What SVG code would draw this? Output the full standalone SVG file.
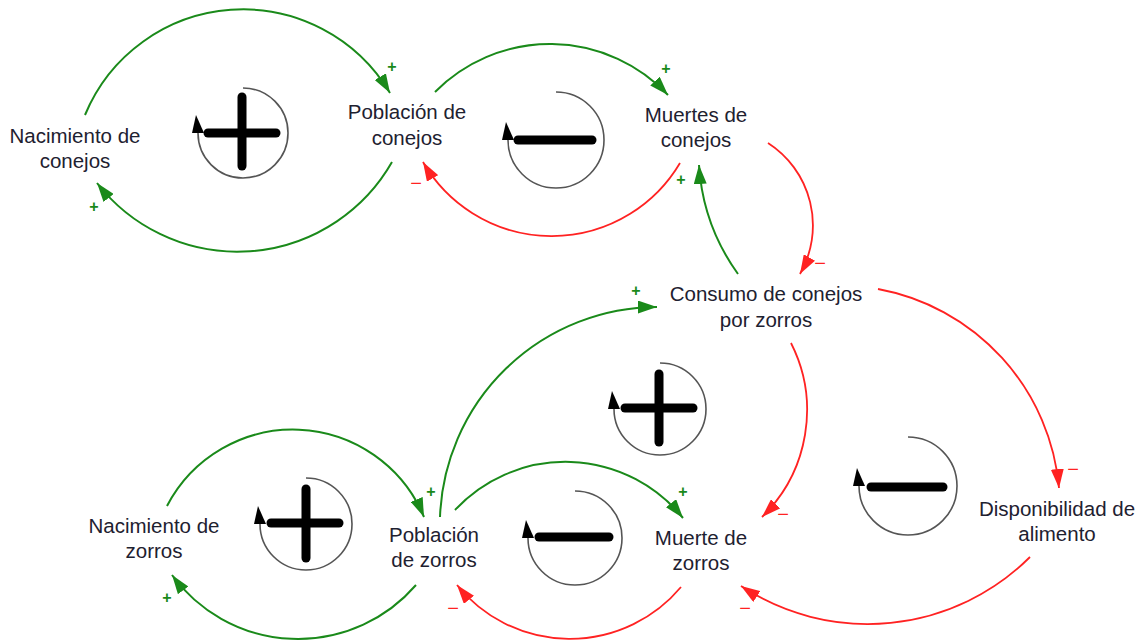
<svg xmlns="http://www.w3.org/2000/svg" width="1141" height="641" viewBox="0 0 1141 641">
<style>
.lbl{font-family:"Liberation Sans",Arial,sans-serif;font-size:20.5px;fill:#1e2130;text-anchor:middle}
.g{fill:none;stroke:#1a8a1a;stroke-width:2}
.r{fill:none;stroke:#ff2222;stroke-width:1.8}
.pp{font-family:"Liberation Sans",Arial,sans-serif;font-size:16px;font-weight:bold;fill:#1a8a1a;text-anchor:middle}
.pm{font-family:"Liberation Sans",Arial,sans-serif;font-size:20px;fill:#ff2222;text-anchor:middle}
.ring{fill:none;stroke:#555;stroke-width:1.6}
.bar{stroke:#000;stroke-width:9;stroke-linecap:round}
.tri{fill:#000}
</style>
<defs>
<marker id="ag" viewBox="0 0 19 13" refX="19" refY="6.5" markerWidth="19" markerHeight="13" markerUnits="userSpaceOnUse" orient="auto"><path d="M0,0 L19,6.5 L0,13 z" fill="#1a8a1a"/></marker>
<marker id="ar" viewBox="0 0 19 13" refX="19" refY="6.5" markerWidth="19" markerHeight="13" markerUnits="userSpaceOnUse" orient="auto"><path d="M0,0 L19,6.5 L0,13 z" fill="#ff2222"/></marker>
</defs>
<rect width="1141" height="641" fill="#fff"/>

<g id="connectors">
<path class="g" marker-end="url(#ag)" d="M85,115 A171,171 0 0 1 390,93"/>
<path class="g" marker-end="url(#ag)" d="M392,162 A178,178 0 0 1 97,183"/>
<path class="g" marker-end="url(#ag)" d="M435,92 A162,162 0 0 1 668,95"/>
<path class="r" marker-end="url(#ar)" d="M680,163 A149,149 0 0 1 423,162"/>
<path class="g" marker-end="url(#ag)" d="M738,274 A209,209 0 0 1 699,165"/>
<path class="r" marker-end="url(#ar)" d="M768,143 A98,98 0 0 1 800,274"/>
<path class="g" marker-end="url(#ag)" d="M440,517 A218,218 0 0 1 657,307"/>
<path class="r" marker-end="url(#ar)" d="M791,343 A149,149 0 0 1 762,517"/>
<path class="r" marker-end="url(#ar)" d="M878,289 A222,222 0 0 1 1059,488"/>
<path class="g" marker-end="url(#ag)" d="M455,510 A151,151 0 0 1 683,518"/>
<path class="r" marker-end="url(#ar)" d="M681,587 A145,145 0 0 1 457,585"/>
<path class="g" marker-end="url(#ag)" d="M167,506 A142,142 0 0 1 424,517"/>
<path class="g" marker-end="url(#ag)" d="M416,585 A156,156 0 0 1 172,575"/>
<path class="r" marker-end="url(#ar)" d="M1030,557 A230,230 0 0 1 741,586"/>
<text class="pp" x="392" y="72">+</text>
<text class="pp" x="94" y="212">+</text>
<text class="pp" x="666" y="74">+</text>
<text class="pm" x="416" y="190">−</text>
<text class="pp" x="681" y="185">+</text>
<text class="pm" x="820" y="270">−</text>
<text class="pp" x="636" y="296">+</text>
<text class="pm" x="783" y="521">−</text>
<text class="pm" x="1073" y="476">−</text>
<text class="pp" x="683" y="497">+</text>
<text class="pm" x="453" y="615">−</text>
<text class="pp" x="431" y="497">+</text>
<text class="pp" x="167" y="603">+</text>
<text class="pm" x="745" y="615">−</text>
</g>

<g id="nacimiento-conejos"><text class="lbl" x="75" y="143">Nacimiento de</text><text class="lbl" x="75" y="168">conejos</text></g>
<g id="poblacion-conejos"><text class="lbl" x="407" y="119">Población de</text><text class="lbl" x="407" y="145">conejos</text></g>
<g id="muertes-conejos"><text class="lbl" x="696" y="122">Muertes de</text><text class="lbl" x="696" y="147">conejos</text></g>
<g id="consumo"><text class="lbl" x="766" y="301">Consumo de conejos</text><text class="lbl" x="766" y="327">por zorros</text></g>
<g id="disponibilidad"><text class="lbl" x="1057" y="516">Disponibilidad de</text><text class="lbl" x="1057" y="541">alimento</text></g>
<g id="nacimiento-zorros"><text class="lbl" x="154" y="533">Nacimiento de</text><text class="lbl" x="154" y="558">zorros</text></g>
<g id="poblacion-zorros"><text class="lbl" x="434" y="542">Población</text><text class="lbl" x="434" y="567">de zorros</text></g>
<g id="muerte-zorros"><text class="lbl" x="701" y="545">Muerte de</text><text class="lbl" x="701" y="570">zorros</text></g>

<g id="loop-r1">
<path class="ring" d="M243,88 A45,45 0 1 1 198,133"/>
<path class="tri" d="M196,115 L192,133 L204,133 z"/>
<line class="bar" x1="208" y1="133" x2="276" y2="133"/><line class="bar" x1="242" y1="97" x2="242" y2="166"/>
</g>
<g id="loop-b1">
<path class="ring" d="M556,92 A48,48 0 1 1 508,140"/>
<path class="tri" d="M506,122 L502,140 L514,140 z"/>
<line class="bar" x1="518" y1="140" x2="592" y2="140"/>
</g>
<g id="loop-r2">
<path class="ring" d="M660,363 A46,46 0 1 1 614,409"/>
<path class="tri" d="M612,391 L608,409 L620,409 z"/>
<line class="bar" x1="625" y1="408" x2="693" y2="408"/><line class="bar" x1="659" y1="374" x2="659" y2="442"/>
</g>
<g id="loop-b2">
<path class="ring" d="M908,437 A49,49 0 1 1 859,486"/>
<path class="tri" d="M857,468 L853,486 L865,486 z"/>
<line class="bar" x1="871" y1="487" x2="943" y2="487"/>
</g>
<g id="loop-r3">
<path class="ring" d="M306,478 A46,46 0 1 1 260,524"/>
<path class="tri" d="M258,506 L254,524 L266,524 z"/>
<line class="bar" x1="271" y1="523" x2="339" y2="523"/><line class="bar" x1="306" y1="489" x2="306" y2="558"/>
</g>
<g id="loop-b3">
<path class="ring" d="M575,491 A47,47 0 1 1 528,538"/>
<path class="tri" d="M526,520 L522,538 L534,538 z"/>
<line class="bar" x1="539" y1="537" x2="609" y2="537"/>
</g>
</svg>
